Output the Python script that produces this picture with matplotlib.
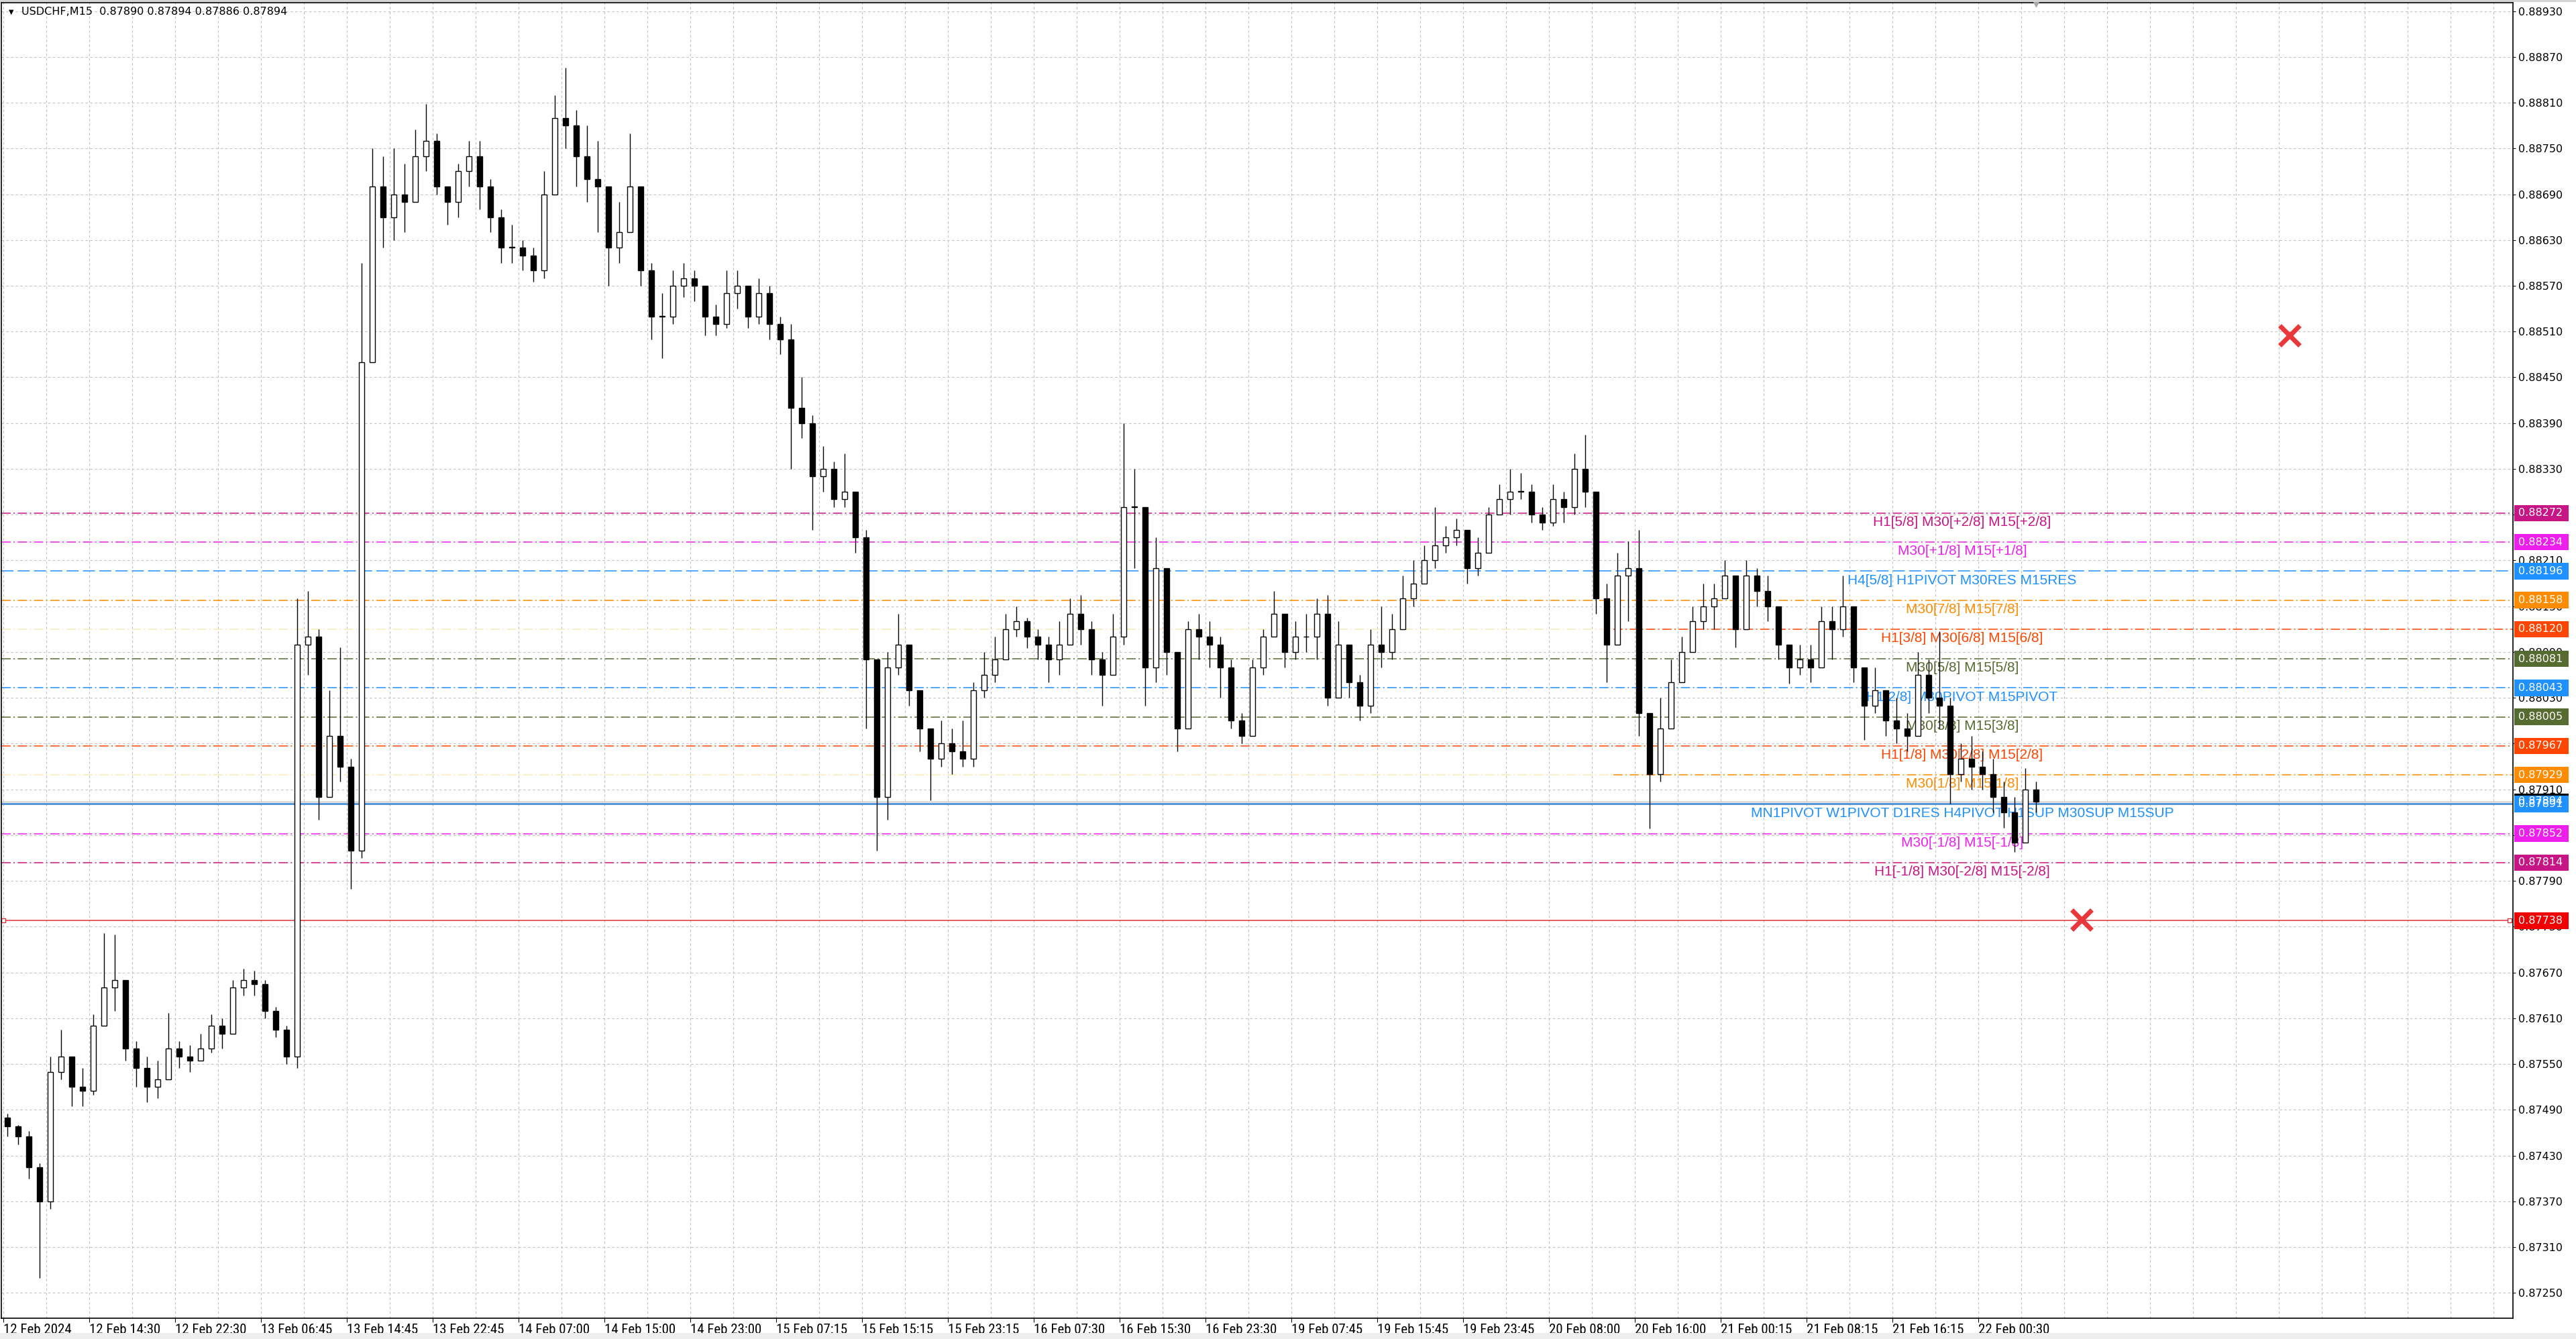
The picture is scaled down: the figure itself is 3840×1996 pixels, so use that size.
import matplotlib
matplotlib.use('Agg')
import matplotlib.pyplot as plt
import matplotlib.transforms as mtransforms
from matplotlib import font_manager
from matplotlib.font_manager import FontProperties
from matplotlib.patches import Rectangle
from matplotlib.ticker import FixedLocator, MultipleLocator

plt.rcParams['lines.scale_dashes'] = False

# prices in points (1e-5) above 0.87000, one candle per hour (4 M15 bars)
BASE = 0.87
first_open = 480
closes = [468, 455, 415, 370, 540, 560, 520, 515, 600, 650,
          660, 570, 545, 520, 530, 570, 560, 555, 570, 600,
          590, 650, 660, 655, 620, 595, 560, 1100, 1110, 900,
          980, 940, 830, 1470, 1700, 1660, 1690, 1680, 1740, 1760,
          1700, 1680, 1720, 1740, 1700, 1660, 1620, 1620, 1610, 1590,
          1690, 1790, 1780, 1740, 1710, 1700, 1620, 1640, 1700, 1590,
          1530, 1530, 1570, 1580, 1570, 1530, 1520, 1560, 1570, 1530,
          1560, 1520, 1500, 1410, 1390, 1320, 1330, 1290, 1300, 1240,
          1080, 900, 1070, 1100, 1040, 990, 950, 970, 960, 950,
          1040, 1060, 1080, 1120, 1130, 1110, 1100, 1080, 1100, 1140,
          1120, 1080, 1060, 1110, 1280, 1280, 1070, 1200, 1090, 990,
          1120, 1110, 1100, 1070, 1000, 980, 1070, 1110, 1140, 1090,
          1110, 1110, 1140, 1030, 1100, 1050, 1020, 1100, 1090, 1120,
          1160, 1180, 1210, 1230, 1240, 1250, 1200, 1220, 1270, 1290,
          1300, 1300, 1270, 1260, 1290, 1280, 1330, 1300, 1160, 1100,
          1190, 1200, 1010, 930, 990, 1050, 1090, 1130, 1150, 1160,
          1190, 1120, 1190, 1170, 1150, 1100, 1070, 1080, 1070, 1130,
          1120, 1150, 1070, 1020, 1040, 1000, 990, 980, 1060, 1030,
          1020, 930, 950, 940, 930, 900, 880, 840, 910, 894]
highs = [485, 470, 462, 420, 560, 595, 560, 545, 615, 722,
         720, 660, 580, 560, 555, 617, 580, 575, 590, 615,
         610, 660, 675, 672, 660, 625, 600, 1160, 1170, 1120,
         1040, 1096, 950, 1600, 1750, 1740, 1750, 1730, 1775, 1808,
         1770, 1700, 1730, 1760, 1760, 1710, 1670, 1650, 1630, 1620,
         1720, 1820, 1856, 1800, 1780, 1760, 1700, 1680, 1770, 1690,
         1600, 1560, 1590, 1600, 1590, 1560, 1545, 1590, 1590, 1560,
         1580, 1570, 1530, 1520, 1450, 1400, 1360, 1340, 1350, 1290,
         1250, 1020, 1090, 1140, 1080, 1030, 990, 1000, 990, 1000,
         1050, 1090, 1110, 1140, 1150, 1135, 1120, 1110, 1130, 1160,
         1165, 1130, 1090, 1140, 1390, 1330, 1260, 1240, 1200, 1060,
         1130, 1140, 1130, 1110, 1080, 1010, 1080, 1120, 1170, 1140,
         1130, 1140, 1160, 1165, 1130, 1090, 1060, 1120, 1150, 1140,
         1190, 1210, 1230, 1280, 1255, 1265, 1240, 1240, 1280, 1310,
         1330, 1325, 1310, 1280, 1310, 1300, 1350, 1375, 1290, 1180,
         1220, 1235, 1250, 1010, 1030, 1080, 1110, 1150, 1180, 1180,
         1210, 1180, 1210, 1200, 1190, 1150, 1100, 1100, 1100, 1150,
         1150, 1190, 1150, 1070, 1070, 1040, 1030, 1010, 1090, 1080,
         1117, 1030, 970, 980, 960, 950, 920, 900, 938, 920]
lows = [455, 445, 400, 270, 360, 530, 495, 495, 510, 600,
        620, 555, 520, 500, 505, 540, 545, 540, 555, 565,
        570, 590, 640, 640, 610, 585, 550, 545, 1060, 870,
        940, 920, 780, 820, 1580, 1620, 1630, 1640, 1680, 1720,
        1690, 1650, 1660, 1700, 1670, 1640, 1600, 1600, 1590, 1575,
        1580, 1690, 1750, 1700, 1680, 1640, 1570, 1600, 1640, 1570,
        1500, 1475, 1520, 1555, 1550, 1505, 1505, 1515, 1540, 1515,
        1520, 1500, 1480, 1330, 1370, 1250, 1300, 1280, 1280, 1220,
        990, 830, 870, 1060, 1020, 960, 896, 940, 930, 940,
        940, 1030, 1050, 1090, 1110, 1095, 1080, 1050, 1060, 1100,
        1100, 1060, 1020, 1060, 1100, 1200, 1020, 1050, 1060, 960,
        990, 1080, 1070, 1030, 990, 970, 980, 1060, 1110, 1070,
        1080, 1090, 1080, 1020, 1030, 1030, 1000, 1010, 1070, 1080,
        1120, 1150, 1180, 1200, 1220, 1230, 1180, 1190, 1220, 1270,
        1270, 1290, 1260, 1250, 1255, 1260, 1270, 1280, 1140, 1050,
        1100, 1130, 980, 859, 920, 990, 1050, 1090, 1120, 1120,
        1160, 1096, 1120, 1150, 1130, 1080, 1049, 1060, 1050, 1070,
        1080, 1110, 1050, 975, 1010, 980, 970, 960, 980, 1010,
        990, 891, 920, 910, 910, 880, 860, 828, 840, 880]

time_labels = ['12 Feb 2024', '12 Feb 14:30', '12 Feb 22:30', '13 Feb 06:45',
               '13 Feb 14:45', '13 Feb 22:45', '14 Feb 07:00', '14 Feb 15:00',
               '14 Feb 23:00', '15 Feb 07:15', '15 Feb 15:15', '15 Feb 23:15',
               '16 Feb 07:30', '16 Feb 15:30', '16 Feb 23:30', '19 Feb 07:45',
               '19 Feb 15:45', '19 Feb 23:45', '20 Feb 08:00', '20 Feb 16:00',
               '21 Feb 00:15', '21 Feb 08:15', '21 Feb 16:15', '22 Feb 00:30']

level_prices = [0.88272, 0.88234, 0.88196, 0.88158, 0.88120, 0.88081, 0.88043,
                0.88005, 0.87967, 0.87929, 0.87891, 0.87852, 0.87814]
level_names = ['H1[5/8] M30[+2/8] M15[+2/8]', 'M30[+1/8] M15[+1/8]',
               'H4[5/8] H1PIVOT M30RES M15RES', 'M30[7/8] M15[7/8]',
               'H1[3/8] M30[6/8] M15[6/8]', 'M30[5/8] M15[5/8]',
               'H1[2/8] M30PIVOT M15PIVOT', 'M30[3/8] M15[3/8]',
               'H1[1/8] M30[2/8] M15[2/8]', 'M30[1/8] M15[1/8]',
               'MN1PIVOT W1PIVOT D1RES H4PIVOT H1SUP M30SUP M15SUP',
               'M30[-1/8] M15[-1/8]', 'H1[-1/8] M30[-2/8] M15[-2/8]']
level_colors = ['#c71585', '#ee1fee', '#1e90ff', '#ff8c00', '#ff4500', '#556b2f',
                '#1e90ff', '#556b2f', '#ff4500', '#ff8c00', '#1e90ff', '#ee1fee',
                '#c71585']
level_line_colors = level_colors[:10] + ['#4a8fd6'] + level_colors[11:]
level_styles = ['dashdot', 'dashdot', 'dash', 'dashdot', 'dashdot', 'dashdot',
                'dashdot', 'dashdot', 'dashdot', 'dashdot', 'solid', 'dashdot',
                'dashdot']
faint_levels = [0.88120, 0.87929]   # drawn pale on the left part of the chart
faint_until_bar = 600
red_level = 0.87738
bid_price = 0.87894
cross_bars = [852, 774.5]
cross_prices = [0.88505, 0.87739]

BARS_PER_CANDLE = 4
BARS_PER_LABEL = 32
LABEL_BAR = 730


def narrow_font_file():
    """Find an installed condensed sans font for the time scale."""
    prefs = ['Liberation Sans Narrow', 'Arial Narrow', 'Roboto Condensed', 'Noto Sans',
             'Open Sans', 'DejaVu Sans', 'Roboto', 'Lato', 'Inter']
    cands = [f for f in font_manager.fontManager.ttflist
             if (f.stretch in ('condensed', 'semi-condensed')
                 or 'Narrow' in f.name or 'Condensed' in f.name)
             and f.style == 'normal' and str(f.weight) in ('400', 'normal', 'regular', 'book')]
    for p in prefs:
        for f in cands:
            if f.name.startswith(p):
                return f.fname
    return cands[0].fname if cands else None


W, H = 3840, 1996
fig = plt.figure(figsize=(W / 100, H / 100), dpi=100, facecolor='white')
ax = fig.add_axes([2 / W, 31 / H, 3744 / W, 1961 / H])
ax.set_xlim(-0.75, 935.25)
ax.set_ylim(0.87217, 0.88941)

# grid
yticks = [round(0.87250 + 0.0006 * i, 5) for i in range(29)]
ax.yaxis.set_major_locator(FixedLocator(yticks))
ax.xaxis.set_major_locator(FixedLocator([BARS_PER_LABEL * i for i in range(len(time_labels))]))
ax.xaxis.set_minor_locator(MultipleLocator(16))
ax.grid(True, which='both', color='#c3c3c3', lw=0.8, linestyle=(0, (2.5, 2.5)), zorder=0)
ax.set_axisbelow(True)

# levels
dash_map = {'dashdot': (0, (10, 3, 1.5, 3)), 'dash': (0, (13, 4.5)), 'solid': '-'}
for price, name, col, lcol, st in zip(level_prices, level_names, level_colors,
                                      level_line_colors, level_styles):
    lw = 2.0 if st == 'solid' else 1.1
    if price in faint_levels:
        ax.hlines(price, -0.75, faint_until_bar, color='#fbe9b8', lw=lw,
                  linestyle=dash_map[st], zorder=1)
        ax.hlines(price, faint_until_bar, 935.25, color=lcol, lw=lw,
                  linestyle=dash_map[st], zorder=1)
    else:
        ax.axhline(price, color=lcol, lw=lw, linestyle=dash_map[st], zorder=1)
    ax.annotate(name, xy=(LABEL_BAR, price), xytext=(0, -3), textcoords='offset points',
                ha='center', va='top', fontsize=15, color=col,
                family=['Liberation Sans', 'DejaVu Sans'], zorder=2)

ax.axhline(bid_price, color='#c0c0c0', lw=1.0, zorder=1)
ax.axhline(red_level, color='#e0303a', lw=1.1, zorder=1)
ax.plot([0, 934], [red_level, red_level], ls='none', marker='s', ms=5,
        mfc='white', mec='#e0303a', mew=1.0, zorder=2)

# candles
opens = [first_open] + closes[:-1]
xs, o_p, h_p, l_p, c_p = [], [], [], [], []
for i, (o, h, l, c) in enumerate(zip(opens, highs, lows, closes)):
    xs.append(BARS_PER_CANDLE * i + 1.5)
    o_p.append(BASE + o / 1e5)
    c_p.append(BASE + c / 1e5)
    h_p.append(BASE + max(h, o, c) / 1e5)
    l_p.append(BASE + min(l, o, c) / 1e5)
ax.vlines(xs, l_p, h_p, color='black', lw=1.0, zorder=3)
bottoms = [min(o, c) for o, c in zip(o_p, c_p)]
heights = [max(abs(c - o), 0.000006) for o, c in zip(o_p, c_p)]
faces = ['white' if c >= o else 'black' for o, c in zip(o_p, c_p)]
ax.bar(xs, heights, width=2.0, bottom=bottoms, color=faces, edgecolor='black',
       lw=1.0, zorder=4)

# red crosses
ax.plot(cross_bars, cross_prices, ls='none', marker='x', ms=22, mew=5,
        color='#e8383b', zorder=6)

# chart shift marker
ax.plot([xs[-1]], [1.0], marker='v', ms=9, color='#a8a8a8', clip_on=False,
        transform=mtransforms.blended_transform_factory(ax.transData, ax.transAxes),
        zorder=6)

# axes styling
for s in ax.spines.values():
    s.set_linewidth(1.2)
    s.set_color('black')
ax.yaxis.tick_right()
ax.set_yticklabels([f'{v:.5f}' for v in yticks])
ax.tick_params(axis='y', which='major', length=3, width=0.8, pad=3, labelsize=11.5)
ax.set_xticklabels(time_labels)
ax.tick_params(axis='x', which='major', length=4, width=0.8, pad=2)
ax.tick_params(axis='x', which='minor', length=0)
narrow = narrow_font_file()
if narrow:
    xfont = FontProperties(fname=narrow, size=15)
else:
    xfont = FontProperties(family='DejaVu Sans', size=10.5)
for lbl in ax.get_xticklabels():
    lbl.set_ha('left')
    lbl.set_fontproperties(xfont)

# price boxes on the right scale
blend = mtransforms.blended_transform_factory(ax.transAxes, ax.transData)
box_h = 0.000215
box_prices = [bid_price] + level_prices + [red_level]
box_colors = ['black'] + level_colors + ['#f00000']
for price, col in zip(box_prices, box_colors):
    ax.add_patch(Rectangle((1.0005, price - box_h / 2), 0.0217, box_h, transform=blend,
                           facecolor=col, edgecolor='none', clip_on=False, zorder=7))
    ax.text(1.0022, price, f'{price:.5f}', transform=blend, color='white',
            fontsize=11.5, va='center', ha='left', clip_on=False, zorder=8)

# header
fig.text(17 / W, 1 - 18 / H, '\u25bc', fontsize=7, va='center', ha='center')
fig.text(32 / W, 1 - 18 / H, 'USDCHF,M15  0.87890 0.87894 0.87886 0.87894',
         fontsize=11.5, va='center', ha='left')

# window edges
fig.patches.append(Rectangle((0, 1 - 3 / H), 1, 3 / H, transform=fig.transFigure,
                             facecolor='#d4d4d4', edgecolor='none'))
fig.patches.append(Rectangle((0, 0), 1, 9 / H, transform=fig.transFigure,
                             facecolor='#eeeeee', edgecolor='none'))

fig.savefig('out.png', dpi=100, facecolor='white')
